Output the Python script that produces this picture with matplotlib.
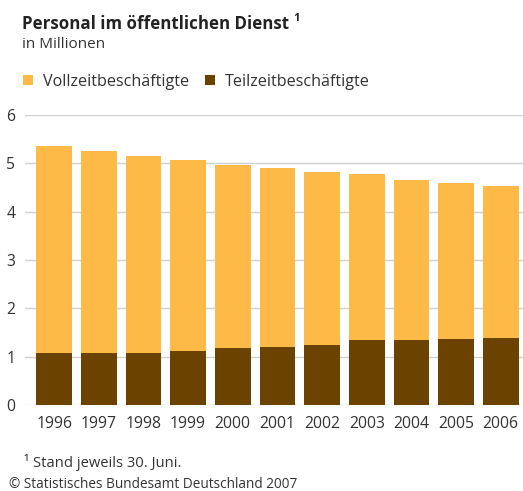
import matplotlib.pyplot as plt

jahre = ["1996", "1997", "1998", "1999", "2000", "2001", "2002", "2003", "2004", "2005", "2006"]
teilzeit = [1.07, 1.07, 1.08, 1.12, 1.17, 1.21, 1.24, 1.34, 1.35, 1.37, 1.39]
vollzeit = [4.29, 4.19, 4.06, 3.94, 3.79, 3.69, 3.57, 3.43, 3.31, 3.23, 3.15]
legende = ["Vollzeitbeschäftigte", "Teilzeitbeschäftigte"]
farben = ["#FDBA46", "#6B4200"]

plt.rcParams['font.family'] = ['Open Sans', 'DejaVu Sans']
textfarbe = "#333333"

fig = plt.figure(figsize=(5.23, 4.91), dpi=100)
ax = fig.add_axes([0.048, 0.175, 0.952, 0.591])

x = range(len(jahre))
b_teil = ax.bar(x, teilzeit, width=0.8, color=farben[1], zorder=2)
b_voll = ax.bar(x, vollzeit, bottom=teilzeit, width=0.8, color=farben[0], zorder=2)

ax.set_ylim(0, 6)
ax.set_xlim(-0.65, 10.5)
ax.set_yticks(range(7))
ax.set_xticks(list(x))
ax.set_xticklabels(jahre)
ax.grid(axis="y", color="#d0d0d0", linewidth=1, zorder=0)
for s in ax.spines.values():
    s.set_visible(False)
ax.tick_params(axis="both", length=0, labelsize=11.3, labelcolor=textfarbe)
ax.tick_params(axis="y", pad=7)
ax.tick_params(axis="x", pad=8)

fig.text(0.042, 0.951, "Personal im öffentlichen Dienst", fontsize=12.2, fontweight="bold",
         color="#222222", va="center")
fig.text(0.561, 0.962, "1", fontsize=8, fontweight="bold", color="#222222", va="center")
fig.text(0.042, 0.910, "in Millionen", fontsize=11, color=textfarbe, va="center")

ax.legend([b_voll, b_teil], legende, loc="center left", bbox_to_anchor=(0.044, 0.834),
          bbox_transform=fig.transFigure, ncol=2, frameon=False, fontsize=11.6,
          borderpad=0, borderaxespad=0,
          handlelength=0.62, handleheight=0.62, handletextpad=0.6, columnspacing=1.0,
          labelcolor=textfarbe)

fig.text(0.045, 0.059, "¹ Stand jeweils 30. Juni.", fontsize=10.6, color=textfarbe, va="center")
fig.text(0.018, 0.013, "© Statistisches Bundesamt Deutschland 2007", fontsize=9.8, color=textfarbe,
         va="center")

plt.savefig("out.png", dpi=100)
